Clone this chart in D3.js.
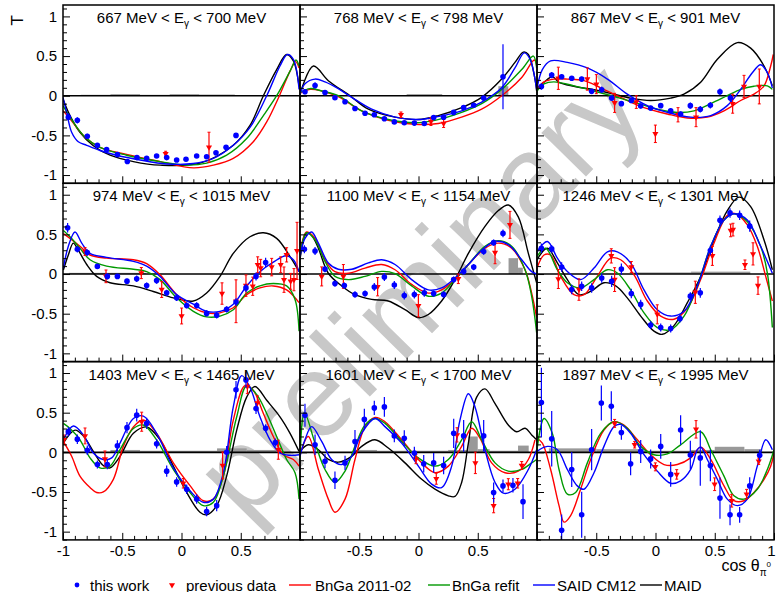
<!DOCTYPE html>
<html>
<head>
<meta charset="utf-8">
<script src="https://cdn.jsdelivr.net/npm/d3@7"></script>
<style>
  body { margin: 0; background: #fff; }
  svg { font-family: "Liberation Sans", Arial, Helvetica, sans-serif; }
</style>
</head>
<body>
<svg id="chart" width="776" height="592"></svg>
<script>
// photon energy bins, one panel each
const energyLow  = [667, 768, 867, 974, 1100, 1246, 1403, 1601, 1897];
const energyHigh = [700, 798, 901, 1015, 1154, 1301, 1465, 1700, 1995];

// [cos theta, T, error] per panel
const thisWork = [
  [[-0.955,-0.27,0.05],[-0.879,-0.31,0.04],[-0.795,-0.51,0.03],[-0.710,-0.625,0.03],[-0.632,-0.68,0.03],[-0.541,-0.74,0.02],[-0.457,-0.83,0.03],[-0.376,-0.78,0.02],[-0.294,-0.79,0.02],[-0.210,-0.76,0.02],[-0.125,-0.78,0.02],[-0.041,-0.81,0.02],[0.038,-0.80,0.02],[0.128,-0.76,0.02],[0.212,-0.77,0.02],[0.291,-0.72,0.02],[0.376,-0.65,0.02],[0.460,-0.50,0.03]],
  [[-0.958,0.05,0.03],[-0.873,0.13,0.04],[-0.789,0.04,0.02],[-0.705,-0.025,0.02],[-0.620,-0.075,0.02],[-0.536,-0.16,0.02],[-0.451,-0.22,0.02],[-0.373,-0.24,0.02],[-0.288,-0.29,0.02],[-0.204,-0.33,0.02],[-0.120,-0.34,0.02],[-0.035,-0.345,0.02],[0.049,-0.35,0.02],[0.128,-0.275,0.02],[0.212,-0.27,0.02],[0.297,-0.21,0.02],[0.381,-0.15,0.02],[0.466,-0.12,0.02],[0.550,-0.03,0.02],[0.713,0.24,0.41]],
  [[-0.963,0.117,0.04],[-0.876,0.26,0.04],[-0.792,0.24,0.03],[-0.707,0.22,0.03],[-0.623,0.21,0.03],[-0.539,0.055,0.03],[-0.454,0.075,0.04],[-0.370,-0.03,0.03],[-0.288,-0.10,0.03],[-0.204,-0.06,0.03],[-0.125,-0.13,0.03],[-0.041,-0.155,0.03],[0.044,-0.125,0.03],[0.128,-0.19,0.03],[0.212,-0.23,0.03],[0.294,-0.125,0.04],[0.378,-0.17,0.04],[0.463,-0.12,0.04],[0.544,0.05,0.04],[0.632,-0.03,0.05]],
  [[-0.961,0.583,0.06],[-0.879,0.3125,0.04],[-0.795,0.27,0.04],[-0.710,0.096,0.03],[-0.626,-0.03,0.04],[-0.541,-0.03,0.03],[-0.460,-0.09,0.03],[-0.378,-0.06,0.04],[-0.294,-0.146,0.04],[-0.210,-0.083,0.04],[-0.125,-0.2375,0.04],[-0.041,-0.30,0.04],[0.044,-0.396,0.04],[0.128,-0.396,0.04],[0.212,-0.496,0.04],[0.297,-0.52,0.04],[0.381,-0.446,0.04],[0.460,-0.354,0.05],[0.544,-0.175,0.05],[0.629,-0.03,0.05],[0.710,0.146,0.06]],
  [[-0.963,0.3125,0.05],[-0.873,0.29,0.05],[-0.789,0.0625,0.04],[-0.705,-0.12,0.04],[-0.626,-0.146,0.04],[-0.536,-0.258,0.04],[-0.451,-0.246,0.04],[-0.373,-0.1625,0.05],[-0.288,-0.0375,0.05],[-0.204,-0.1375,0.05],[-0.120,-0.27,0.05],[-0.035,-0.258,0.05],[0.049,-0.2375,0.05],[0.128,-0.246,0.04],[0.212,-0.258,0.04],[0.297,-0.07,0.04],[0.381,0.033,0.04],[0.466,0.0875,0.04],[0.550,0.283,0.04],[0.634,0.396,0.04],[0.713,0.5125,0.05]],
  [[-0.963,0.325,0.06],[-0.876,0.317,0.05],[-0.792,0.0875,0.06],[-0.707,-0.196,0.06],[-0.623,-0.154,0.06],[-0.539,-0.175,0.06],[-0.454,-0.05,0.06],[-0.370,-0.092,0.07],[-0.288,0.0625,0.07],[-0.204,-0.246,0.06],[-0.125,-0.383,0.06],[-0.041,-0.642,0.05],[0.044,-0.675,0.05],[0.128,-0.6875,0.05],[0.206,-0.5625,0.05],[0.294,-0.279,0.05],[0.378,-0.2375,0.06],[0.463,0.296,0.06],[0.544,0.679,0.06],[0.629,0.771,0.06],[0.710,0.742,0.06],[0.795,0.604,0.07]],
  [[-0.955,0.261,0.06],[-0.879,0.166,0.06],[-0.795,0.025,0.06],[-0.710,-0.154,0.05],[-0.626,-0.154,0.06],[-0.541,0.083,0.07],[-0.460,0.311,0.07],[-0.378,0.469,0.08],[-0.294,0.365,0.07],[-0.210,0.108,0.06],[-0.125,-0.237,0.07],[-0.041,-0.373,0.06],[0.044,-0.465,0.06],[0.128,-0.589,0.06],[0.212,-0.747,0.06],[0.297,-0.672,0.07],[0.381,0,0.08],[0.460,0.788,0.11],[0.544,0.913,0.1],[0.629,0.552,0.07],[0.710,0.303,0.05],[0.792,0.124,0.05]],
  [[-0.958,0.469,0.145],[-0.873,0.095,0.13],[-0.789,-0.112,0.09],[-0.705,-0.353,0.11],[-0.620,-0.133,0.09],[-0.536,0.137,0.145],[-0.457,0.415,0.135],[-0.373,0.56,0.09],[-0.288,0.573,0.125],[-0.204,0.207,0.08],[-0.120,0.178,0.1],[-0.035,-0.008,0.08],[0.044,-0.145,0.11],[0.128,-0.133,0.125],[0.212,-0.166,0.11],[0.297,0.24,0.185],[0.381,0.207,0.2],[0.550,0.207,0.2],[0.634,-0.506,0.125],[0.713,-0.423,0.08],[0.797,-0.415,0.09],[0.882,-0.622,0.22]],
  [[-0.963,0.627,0.44],[-0.876,0.17,0.35],[-0.792,-0.983,0.2],[-0.707,-0.216,0.22],[-0.623,-0.788,0.29],[-0.539,0.033,0.26],[-0.457,0.622,0.22],[-0.373,0.581,0.19],[-0.288,0.249,0.09],[-0.210,-0.145,0.145],[-0.125,0.012,0.145],[-0.041,-0.083,0.12],[0.044,0.075,0.155],[0.128,-0.278,0.155],[0.212,0.282,0.185],[0.294,-0.033,0.18],[0.378,-0.07,0.35],[0.463,-0.166,0.2],[0.544,-0.577,0.26],[0.629,-0.788,0.13],[0.710,-0.788,0.1],[0.795,-0.423,0.11],[0.879,-0.037,0.07]]
];

const previousData = [
  [[-0.134,-0.73,0.03],[0.232,-0.65,0.19]],
  [[-0.148,-0.24,0.035],[0.105,-0.325,0.05],[0.212,-0.35,0.05]],
  [[-0.820,0.22,0.14],[-0.575,0.21,0.14],[-0.499,0.146,0.12],[-0.345,-0.09,0.12],[-0.162,-0.08,0.08],[-0.001,-0.48,0.11],[0.190,-0.24,0.09],[0.342,-0.27,0.12],[0.651,-0.1,0.12],[0.747,0.117,0.14],[0.876,0.117,0.22]],
  [[-0.814,0.283,0.05],[-0.637,-0.029,0.08],[-0.339,0.0125,0.07],[-0.167,-0.196,0.1],[0.001,-0.529,0.1],[0.342,-0.246,0.135],[0.460,-0.343,0.27],[0.544,-0.146,0.135],[0.601,-0.154,0.115],[0.643,0.117,0.1],[0.668,0.075,0.11],[0.761,0.0875,0.11],[0.837,0.117,0.1],[0.865,-0.071,0.16],[0.887,0.242,0.09],[0.921,-0.092,0.1],[0.949,-0.071,0.14],[0.975,0.292,0.36]],
  [[-0.817,-0.03,0.12],[-0.634,-0.03,0.15],[-0.345,-0.16,0.115],[-0.001,-0.40,0.14],[0.336,-0.06,0.06],[0.646,0.27,0.14],[0.772,0.62,0.17]],
  [[-0.820,-0.0625,0.12],[-0.646,-0.196,0.135],[-0.373,0.229,0.09],[-0.345,-0.07,0.15],[-0.204,0.0875,0.07],[0.015,-0.508,0.12],[0.336,-0.23,0.14],[0.480,0.229,0.12],[0.634,0.55,0.08],[0.654,0.56,0.08],[0.755,0.117,0.06],[0.823,0.254,0.14],[0.865,-0.146,0.11]],
  [[-0.992,0.158,0.06],[-0.814,0.207,0.1],[-0.646,-0.083,0.1],[-0.336,0.386,0.12],[0.015,-0.39,0.06],[0.347,-0.166,0.17],[0.556,0.83,0.09],[0.640,0.622,0.09],[0.817,0.033,0.12]],
  [[-0.021,-0.083,0.06],[0.150,-0.332,0.07],[0.325,0.22,0.09],[0.480,-0.133,0.135],[0.634,-0.672,0.09],[0.758,-0.402,0.07],[0.837,-0.39,0.06],[0.871,-0.166,0.05]],
  [[-0.345,0.365,0.05],[-0.176,0.095,0.04],[-0.001,-0.183,0.05],[0.179,-0.278,0.06],[0.342,0.29,0.11],[0.499,-0.402,0.08],[0.643,-0.61,0.08],[0.769,-0.527,0.06],[0.871,-0.112,0.04]]
];

// model curves, [cos theta, T]
const bnga201102 = [
  [[-1,-0.19],[-0.941,-0.29],[-0.828,-0.5],[-0.688,-0.65],[-0.463,-0.74],[-0.181,-0.83],[0.100,-0.91],[0.269,-0.875],[0.437,-0.79],[0.606,-0.58],[0.719,-0.33],[0.826,0],[0.916,0.31],[0.963,0.43],[0.992,0.35]],
  [[-1,0.03],[-0.916,0.08],[-0.817,0.06],[-0.677,-0.01],[-0.480,-0.19],[-0.255,-0.31],[-0.030,-0.36],[0.167,-0.35],[0.364,-0.27],[0.533,-0.17],[0.702,0],[0.871,0.23],[0.978,0.45],[1.0,0.35]],
  [[-1,0.08],[-0.941,0.175],[-0.857,0.21],[-0.744,0.21],[-0.603,0.19],[-0.463,0.10],[-0.294,-0.02],[-0.097,-0.15],[0.100,-0.23],[0.269,-0.28],[0.437,-0.27],[0.578,-0.19],[0.719,-0.06],[0.831,0.02],[0.916,0.125],[0.972,0.375],[0.994,0.52]],
  [[-0.997,0.51],[-0.941,0.45],[-0.857,0.35],[-0.772,0.24],[-0.632,0.20],[-0.406,0.18],[-0.294,0.13],[-0.181,-0.01],[-0.041,-0.26],[0.100,-0.425],[0.212,-0.49],[0.325,-0.49],[0.437,-0.425],[0.550,-0.26],[0.662,-0.175],[0.775,-0.15],[0.887,-0.2],[0.992,-0.36]],
  [[-1,0.26],[-0.944,0.53],[-0.873,0.45],[-0.789,0.18],[-0.705,0.03],[-0.592,0.01],[-0.451,0.075],[-0.311,0.12],[-0.198,0.054],[-0.058,-0.13],[0.083,-0.24],[0.195,-0.2],[0.308,-0.07],[0.421,0.12],[0.561,0.325],[0.674,0.39],[0.786,0.325],[0.899,0.054],[0.955,-0.24],[0.997,-0.55]],
  [[-1,0.075],[-0.941,0.24],[-0.885,0.24],[-0.800,-0.03],[-0.688,-0.26],[-0.603,-0.26],[-0.491,-0.03],[-0.378,0.2],[-0.294,0.18],[-0.181,-0.01],[-0.069,-0.34],[0.044,-0.53],[0.156,-0.57],[0.269,-0.43],[0.381,-0.07],[0.494,0.39],[0.606,0.74],[0.677,0.76],[0.775,0.62],[0.859,0.35],[0.930,-0.03],[0.986,-0.34]],
  [[-0.997,0.137],[-0.927,-0.05],[-0.857,-0.3],[-0.772,-0.444],[-0.716,-0.506],[-0.660,-0.5],[-0.575,-0.34],[-0.491,0.075],[-0.406,0.32],[-0.322,0.407],[-0.210,0.24],[-0.069,-0.133],[0.072,-0.42],[0.184,-0.61],[0.269,-0.59],[0.353,-0.3],[0.437,0.407],[0.536,0.84],[0.606,0.78],[0.691,0.49],[0.775,0.2],[0.859,-0.03],[0.944,-0.09],[0.992,-0.174]],
  [[-1,-0.03],[-0.930,0.2],[-0.845,-0.216],[-0.761,-0.59],[-0.705,-0.755],[-0.620,-0.59],[-0.536,-0.09],[-0.451,0.324],[-0.367,0.44],[-0.283,0.386],[-0.142,0.158],[-0.001,-0.09],[0.139,-0.257],[0.252,-0.174],[0.364,0.075],[0.449,0.303],[0.519,0.178],[0.617,-0.133],[0.730,-0.257],[0.842,-0.237],[0.927,-0.09],[0.983,0.158]],
  [[-1,0.178],[-0.955,0.116],[-0.885,-0.216],[-0.814,-0.672],[-0.772,-0.88],[-0.716,-0.797],[-0.632,-0.465],[-0.547,-0.09],[-0.435,0.282],[-0.350,0.386],[-0.266,0.344],[-0.153,0.158],[-0.041,-0.03],[0.072,-0.154],[0.184,-0.154],[0.297,-0.07],[0.381,0.066],[0.466,-0.09],[0.578,-0.423],[0.662,-0.61],[0.747,-0.61],[0.831,-0.506],[0.916,-0.34],[0.972,-0.174],[1.0,-0.008]]
];

const bngaRefit = [
  [[-1,-0.125],[-0.941,-0.27],[-0.828,-0.5],[-0.688,-0.65],[-0.463,-0.75],[-0.181,-0.83],[0.044,-0.875],[0.212,-0.85],[0.381,-0.75],[0.550,-0.54],[0.691,-0.25],[0.803,0],[0.916,0.31],[0.966,0.45],[0.992,0.375]],
  [[-1,0.04],[-0.916,0.09],[-0.817,0.06],[-0.677,0],[-0.480,-0.19],[-0.255,-0.30],[-0.030,-0.34],[0.139,-0.31],[0.364,-0.21],[0.533,-0.10],[0.702,0.08],[0.871,0.33],[0.969,0.5],[0.997,0.35]],
  [[-1,0.06],[-0.941,0.15],[-0.857,0.175],[-0.688,0.125],[-0.519,0.06],[-0.350,-0.01],[-0.181,-0.08],[0.015,-0.17],[0.184,-0.21],[0.325,-0.19],[0.466,-0.10],[0.606,0],[0.719,0.08],[0.831,0.12],[0.944,0.125],[0.986,0.08]],
  [[-0.997,0.55],[-0.941,0.47],[-0.857,0.325],[-0.772,0.18],[-0.632,0.10],[-0.406,0.06],[-0.294,0.03],[-0.181,-0.07],[-0.041,-0.30],[0.100,-0.47],[0.212,-0.54],[0.325,-0.53],[0.437,-0.45],[0.550,-0.24],[0.662,-0.15],[0.775,-0.12],[0.887,-0.15],[0.958,-0.32],[0.992,-0.72]],
  [[-1,0.24],[-0.944,0.52],[-0.873,0.43],[-0.789,0.16],[-0.705,-0.03],[-0.592,-0.07],[-0.451,-0.03],[-0.311,0.033],[-0.198,0.004],[-0.058,-0.15],[0.083,-0.28],[0.195,-0.24],[0.308,-0.07],[0.421,0.12],[0.561,0.35],[0.674,0.42],[0.786,0.35],[0.899,0.054],[0.955,-0.28],[0.997,-0.74]],
  [[-1,0.22],[-0.927,0.325],[-0.828,0.054],[-0.744,-0.11],[-0.632,-0.175],[-0.519,-0.07],[-0.406,0.054],[-0.322,0.0125],[-0.210,-0.2],[-0.097,-0.49],[0.015,-0.675],[0.128,-0.70],[0.241,-0.53],[0.353,-0.15],[0.466,0.35],[0.578,0.68],[0.662,0.76],[0.775,0.66],[0.887,0.35],[0.944,0.0125],[0.986,-0.675]],
  [[-0.997,0.365],[-0.941,0.3],[-0.857,0.158],[-0.772,-0.07],[-0.688,-0.195],[-0.603,-0.174],[-0.519,0.033],[-0.406,0.3],[-0.322,0.344],[-0.210,0.158],[-0.069,-0.216],[0.072,-0.506],[0.184,-0.672],[0.269,-0.63],[0.353,-0.3],[0.466,0.448],[0.550,0.84],[0.634,0.73],[0.719,0.49],[0.803,0.2],[0.887,-0.09],[0.958,-0.257],[0.992,-0.59]],
  [[-1,-0.09],[-0.963,0.5],[-0.873,0.116],[-0.789,-0.216],[-0.705,-0.38],[-0.620,-0.237],[-0.536,0.075],[-0.451,0.344],[-0.367,0.427],[-0.283,0.365],[-0.142,0.137],[-0.001,-0.07],[0.139,-0.174],[0.252,-0.09],[0.364,0.158],[0.449,0.386],[0.533,0.158],[0.646,-0.133],[0.758,-0.237],[0.871,-0.216],[0.955,-0.133],[0.997,-0.09]],
  [[-1,0.033],[-0.941,0.427],[-0.871,0.24],[-0.814,-0.216],[-0.744,-0.527],[-0.674,-0.506],[-0.575,-0.133],[-0.463,0.24],[-0.350,0.386],[-0.238,0.303],[-0.125,0.075],[-0.013,-0.03],[0.100,-0.02],[0.212,0.095],[0.381,0.26],[0.466,0.033],[0.578,-0.3],[0.662,-0.548],[0.747,-0.59],[0.859,-0.465],[0.944,-0.216],[1.0,0.033]]
];

const saidCM12 = [
  [[-1,-0.02],[-0.969,-0.21],[-0.927,-0.46],[-0.871,-0.58],[-0.800,-0.625],[-0.688,-0.69],[-0.547,-0.75],[-0.350,-0.81],[-0.125,-0.86],[0.100,-0.855],[0.269,-0.79],[0.437,-0.625],[0.578,-0.40],[0.719,0],[0.831,0.375],[0.893,0.52],[0.944,0.46],[0.992,0.08]],
  [[-1,0.02],[-0.958,0.15],[-0.873,0.21],[-0.789,0.175],[-0.677,0.09],[-0.564,-0.02],[-0.395,-0.17],[-0.198,-0.27],[-0.001,-0.30],[0.139,-0.27],[0.364,-0.19],[0.533,-0.08],[0.702,0.10],[0.814,0.35],[0.893,0.54],[0.941,0.46],[0.997,0.08]],
  [[-1,0.09],[-0.955,0.33],[-0.885,0.44],[-0.744,0.42],[-0.575,0.35],[-0.406,0.21],[-0.238,0.02],[-0.069,-0.125],[0.100,-0.21],[0.297,-0.27],[0.466,-0.25],[0.606,-0.125],[0.719,0.08],[0.817,0.29],[0.887,0.39],[0.944,0.29],[0.986,0.10]],
  [[-0.997,0.075],[-0.955,0.35],[-0.899,0.53],[-0.842,0.39],[-0.772,0.26],[-0.632,0.21],[-0.406,0.16],[-0.294,0.10],[-0.181,-0.03],[-0.041,-0.26],[0.100,-0.38],[0.212,-0.47],[0.325,-0.47],[0.437,-0.38],[0.550,-0.15],[0.662,0.03],[0.775,0.15],[0.882,0.23],[0.944,0.18],[0.992,0.03]],
  [[-1,0.22],[-0.958,0.45],[-0.902,0.53],[-0.845,0.39],[-0.761,0.14],[-0.677,0.06],[-0.564,0.06],[-0.423,0.14],[-0.311,0.18],[-0.198,0.12],[-0.058,-0.07],[0.083,-0.20],[0.195,-0.175],[0.308,-0.05],[0.421,0.12],[0.533,0.30],[0.646,0.41],[0.758,0.37],[0.871,0.18],[0.955,0.03],[0.997,0.0]],
  [[-1,0.28],[-0.913,0.41],[-0.828,0.2],[-0.744,0.033],[-0.632,-0.07],[-0.519,0.075],[-0.406,0.28],[-0.322,0.28],[-0.210,0.14],[-0.097,-0.2],[0.015,-0.45],[0.128,-0.53],[0.241,-0.47],[0.353,-0.15],[0.466,0.35],[0.578,0.68],[0.662,0.76],[0.775,0.68],[0.887,0.35],[0.986,0.01]],
  [[-0.997,0.158],[-0.913,0.332],[-0.828,0.22],[-0.744,-0.008],[-0.660,-0.09],[-0.589,-0.07],[-0.519,0.116],[-0.406,0.427],[-0.322,0.456],[-0.210,0.24],[-0.069,-0.195],[0.072,-0.485],[0.184,-0.63],[0.269,-0.59],[0.353,-0.257],[0.437,0.573],[0.508,0.967],[0.578,0.82],[0.662,0.448],[0.747,0.158],[0.831,-0.008],[0.916,-0.037],[0.992,-0.03]],
  [[-1,-0.05],[-0.958,0.158],[-0.902,0.324],[-0.817,0.137],[-0.733,-0.09],[-0.648,-0.154],[-0.564,-0.05],[-0.480,0.24],[-0.367,0.427],[-0.283,0.324],[-0.142,0.116],[-0.001,-0.174],[0.111,-0.4],[0.195,-0.444],[0.280,-0.174],[0.350,0.407],[0.421,0.739],[0.477,0.573],[0.561,0.033],[0.646,-0.38],[0.716,-0.515],[0.814,-0.465],[0.927,-0.216],[0.997,0.033]],
  [[-1,0.012],[-0.913,0.075],[-0.828,0.033],[-0.744,-0.216],[-0.660,-0.423],[-0.603,-0.465],[-0.519,-0.257],[-0.435,0.075],[-0.350,0.324],[-0.294,0.353],[-0.210,0.24],[-0.097,-0.03],[0.015,-0.237],[0.128,-0.39],[0.212,-0.36],[0.297,-0.216],[0.353,0.033],[0.381,0.066],[0.437,-0.09],[0.522,-0.34],[0.606,-0.59],[0.691,-0.672],[0.775,-0.59],[0.859,-0.174],[0.930,0.158],[0.986,0.033]]
];

const maid = [
  [[-1,-0.04],[-0.941,-0.25],[-0.857,-0.46],[-0.744,-0.63],[-0.603,-0.75],[-0.406,-0.83],[-0.181,-0.875],[0.156,-0.85],[0.437,-0.625],[0.578,-0.375],[0.691,0],[0.803,0.33],[0.887,0.52],[0.944,0.44],[0.992,0.12]],
  [[-1,0.02],[-0.887,0.375],[-0.761,0.19],[-0.578,0],[-0.423,-0.17],[-0.198,-0.27],[-0.001,-0.30],[0.167,-0.25],[0.364,-0.15],[0.533,-0.02],[0.702,0.21],[0.814,0.42],[0.885,0.55],[0.927,0.52],[0.983,0.21],[0.997,0.06]],
  [[-1,0.10],[-0.941,0.17],[-0.871,0.24],[-0.814,0.17],[-0.688,0.12],[-0.519,0.075],[-0.378,0.03],[-0.210,-0.03],[-0.041,-0.06],[0.128,-0.03],[0.240,0.02],[0.381,0.17],[0.522,0.46],[0.691,0.67],[0.803,0.60],[0.916,0.375],[0.986,0.125]],
  [[-0.997,0.05],[-0.955,0.24],[-0.913,0.39],[-0.871,0.30],[-0.800,0.12],[-0.716,-0.03],[-0.603,-0.11],[-0.406,-0.15],[-0.238,-0.22],[-0.069,-0.30],[0.100,-0.34],[0.212,-0.24],[0.325,-0.03],[0.437,0.26],[0.578,0.47],[0.691,0.52],[0.803,0.45],[0.916,0.22],[0.992,0.03]],
  [[-1,0.18],[-0.944,0.52],[-0.902,0.49],[-0.845,0.325],[-0.761,0.01],[-0.648,-0.15],[-0.536,-0.26],[-0.395,-0.32],[-0.255,-0.34],[-0.114,-0.45],[-0.001,-0.55],[0.083,-0.51],[0.195,-0.34],[0.308,-0.07],[0.421,0.26],[0.561,0.60],[0.674,0.80],[0.758,0.87],[0.842,0.72],[0.927,0.26],[0.997,-0.11]],
  [[-1,0.18],[-0.913,0.325],[-0.828,0.14],[-0.744,-0.07],[-0.646,-0.26],[-0.547,-0.22],[-0.435,-0.11],[-0.336,-0.15],[-0.238,-0.30],[-0.125,-0.53],[-0.013,-0.72],[0.058,-0.76],[0.156,-0.65],[0.269,-0.36],[0.381,-0.03],[0.494,0.43],[0.606,0.80],[0.705,0.97],[0.803,0.85],[0.916,0.43],[0.986,0.054]],
  [[-0.997,0.116],[-0.899,0.28],[-0.828,0.207],[-0.744,0.012],[-0.660,-0.166],[-0.603,-0.195],[-0.519,-0.05],[-0.406,0.24],[-0.294,0.32],[-0.181,0.158],[-0.069,-0.174],[0.044,-0.506],[0.156,-0.755],[0.212,-0.788],[0.297,-0.672],[0.381,-0.3],[0.466,0.28],[0.550,0.697],[0.620,0.83],[0.719,0.656],[0.831,0.448],[0.916,0.24],[0.992,0.012]],
  [[-1,0.012],[-0.930,0.095],[-0.845,0.033],[-0.761,-0.09],[-0.677,-0.124],[-0.564,-0.05],[-0.480,0.075],[-0.367,0.158],[-0.255,0.054],[-0.114,-0.133],[0.027,-0.34],[0.139,-0.465],[0.252,-0.548],[0.308,-0.556],[0.364,-0.38],[0.421,0.116],[0.491,0.697],[0.561,0.80],[0.646,0.614],[0.758,0.344],[0.828,0.26],[0.899,0.303],[0.955,0.22],[0.997,0.158]],
  []
];

// systematic error histogram: [cos low, cos high, height]
const systErr = [
  [[-0.85,-0.6,0.012],[-0.6,-0.35,0.02],[-0.35,-0.1,0.012],[-0.1,0.15,0.02],[0.15,0.45,0.015]],
  [[-0.1,0.2,0.02],[0.674,0.758,0.12]],
  [],
  [[-0.95,-0.3,0.015]],
  [[0.76,0.84,0.2],[0.84,0.88,0.08]],
  [[-0.2,0.3,0.02],[0.3,0.8,0.03]],
  [[-0.6,-0.35,0.03],[-0.35,0.3,0.02],[0.3,0.55,0.05],[0.55,0.8,0.03]],
  [[-0.55,-0.35,0.03],[-0.35,0.25,0.02],[0.25,0.42,0.03],[0.42,0.5,0.2],[0.5,0.6,0.04],[0.6,0.84,0.02],[0.84,0.93,0.085]],
  [[-0.9,-0.5,0.05],[-0.5,-0.1,0.04],[-0.1,0.3,0.02],[0.3,0.5,0.03],[0.5,0.75,0.07],[0.75,0.9,0.04]]
];

const yMajorTicks = [-1, -0.5, 0, 0.5, 1];
const xMajorTicks = [-1, -0.5, 0, 0.5, 1];
const xLabelsByColumn = [[-1, -0.5, 0, 0.5], [-0.5, 0, 0.5], [-0.5, 0, 0.5, 1]];
const legendLabels = ['this work', 'previous data', 'BnGa 2011-02', 'BnGa refit', 'SAID CM12', 'MAID'];

const svg = d3.select('#chart');
const plotLeft = 63, plotTop = 5, panelW = 237, panelH = 178.3;
const yDomain = [-1.104, 1.144];
const FONT = '"Liberation Sans", Arial, Helvetica, sans-serif';
const RED = '#ff0000', GREEN = '#009900', BLUE = '#0000ff';

const curveSets = [
  {data: maid, color: '#000000'},
  {data: bnga201102, color: RED},
  {data: bngaRefit, color: GREEN},
  {data: saidCM12, color: BLUE}
];

// preliminary watermark, under the data
svg.append('text')
  .attr('transform', 'translate(447,318) rotate(-45.5)')
  .attr('text-anchor', 'middle')
  .attr('font-size', 118)
  .attr('fill', '#c8c8c8')
  .text('preliminary');

const minorY = d3.range(-11, 12).map(k => k / 10)
  .filter(v => v >= yDomain[0] && v <= yDomain[1] && Math.abs(v * 2 - Math.round(v * 2)) > 1e-6);
const minorX = d3.range(-10, 11).map(k => k / 10)
  .filter(v => Math.abs(v * 2 - Math.round(v * 2)) > 1e-6);

function cleanAxis(sel) {
  sel.attr('font-family', FONT).attr('font-size', 15);
  sel.select('.domain').remove();
  sel.selectAll('line').attr('stroke', '#000');
  sel.selectAll('text').attr('fill', '#000');
}

const triangle = d3.symbol(d3.symbolTriangle, 16);

energyLow.forEach((lo, i) => {
  const col = i % 3, row = Math.floor(i / 3);
  const x0 = plotLeft + col * panelW, y0 = plotTop + row * panelH;
  const x = d3.scaleLinear().domain([-1, 1]).range([x0, x0 + panelW]);
  const y = d3.scaleLinear().domain(yDomain).range([y0 + panelH, y0]);

  svg.append('clipPath').attr('id', 'clip' + i)
    .append('rect').attr('x', x0).attr('y', y0).attr('width', panelW).attr('height', panelH);
  const g = svg.append('g').attr('clip-path', `url(#clip${i})`);

  // systematic errors
  g.selectAll('rect.sys').data(systErr[i]).join('rect')
    .attr('class', 'sys')
    .attr('x', d => x(d[0])).attr('width', d => x(d[1]) - x(d[0]))
    .attr('y', d => y(d[2])).attr('height', d => y(0) - y(d[2]))
    .attr('fill', '#999');

  g.append('line')
    .attr('x1', x(-1)).attr('x2', x(1)).attr('y1', y(0)).attr('y2', y(0))
    .attr('stroke', '#000').attr('stroke-width', 1.6);

  const line = d3.line().x(d => x(d[0])).y(d => y(d[1])).curve(d3.curveCatmullRom.alpha(0.5));
  curveSets.forEach(c => {
    if (!c.data[i].length) return;
    g.append('path').attr('d', line(c.data[i]))
      .attr('fill', 'none').attr('stroke', c.color).attr('stroke-width', 1.4);
  });

  // previous data (red triangles)
  const prev = g.append('g');
  prev.selectAll('line.eb').data(previousData[i]).join('line')
    .attr('x1', d => x(d[0])).attr('x2', d => x(d[0]))
    .attr('y1', d => y(d[1] - d[2])).attr('y2', d => y(d[1] + d[2]))
    .attr('stroke', RED).attr('stroke-width', 1.2);
  [-1, 1].forEach(s => {
    prev.selectAll(null).data(previousData[i]).join('line')
      .attr('x1', d => x(d[0]) - 1.5).attr('x2', d => x(d[0]) + 1.5)
      .attr('y1', d => y(d[1] + s * d[2])).attr('y2', d => y(d[1] + s * d[2]))
      .attr('stroke', RED).attr('stroke-width', 1);
  });
  prev.selectAll('path').data(previousData[i]).join('path')
    .attr('d', triangle)
    .attr('transform', d => `translate(${x(d[0])},${y(d[1])}) rotate(180)`)
    .attr('fill', RED);

  // this work (blue dots)
  const tw = g.append('g');
  tw.selectAll('line').data(thisWork[i]).join('line')
    .attr('x1', d => x(d[0])).attr('x2', d => x(d[0]))
    .attr('y1', d => y(d[1] - d[2])).attr('y2', d => y(d[1] + d[2]))
    .attr('stroke', BLUE).attr('stroke-width', 1.2);
  tw.selectAll('circle').data(thisWork[i]).join('circle')
    .attr('cx', d => x(d[0])).attr('cy', d => y(d[1])).attr('r', 2.8)
    .attr('fill', BLUE);

  // axes, ticks pointing inward
  svg.append('g').attr('transform', `translate(${x0},0)`)
    .call(d3.axisLeft(y).tickValues(yMajorTicks).tickSizeInner(-7).tickSizeOuter(0).tickPadding(6)
      .tickFormat(d => col === 0 ? String(d) : ''))
    .call(cleanAxis);
  svg.append('g').attr('transform', `translate(${x0},0)`)
    .call(d3.axisLeft(y).tickValues(minorY).tickSizeInner(-4).tickSizeOuter(0).tickFormat(''))
    .call(cleanAxis);
  const xAxisG = svg.append('g').attr('transform', `translate(0,${y0 + panelH})`)
    .call(d3.axisBottom(x).tickValues(xMajorTicks).tickSizeInner(-7).tickSizeOuter(0).tickPadding(5)
      .tickFormat(d => row === 2 && xLabelsByColumn[col].includes(d) ? String(d) : ''))
    .call(cleanAxis);
  // the last label sits on the picture edge: nudge it in
  xAxisG.selectAll('text').filter(d => d === 1).attr('dx', -3);
  svg.append('g').attr('transform', `translate(0,${y0 + panelH})`)
    .call(d3.axisBottom(x).tickValues(minorX).tickSizeInner(-4).tickSizeOuter(0).tickFormat(''))
    .call(cleanAxis);

  // panel title
  const title = svg.append('text')
    .attr('x', x0 + panelW / 2).attr('y', y0 + 18)
    .attr('text-anchor', 'middle').attr('font-size', 15).attr('fill', '#000');
  title.append('tspan').text(`${lo} MeV < E`);
  title.append('tspan').attr('font-size', 10).attr('dy', 4).text('γ');
  title.append('tspan').attr('dy', -4).text(` < ${energyHigh[i]} MeV`);

  svg.append('rect')
    .attr('x', x0).attr('y', y0).attr('width', panelW).attr('height', panelH)
    .attr('fill', 'none').attr('stroke', '#000').attr('stroke-width', 1.5);
});

// axis titles
svg.append('text')
  .attr('transform', 'translate(23,15) rotate(-90)')
  .attr('text-anchor', 'end').attr('font-size', 17).text('T');

const xTitle = svg.append('text')
  .attr('x', 771).attr('y', 571).attr('text-anchor', 'end').attr('font-size', 16);
xTitle.append('tspan').text('cos θ');
xTitle.append('tspan').attr('font-size', 10).attr('dy', 5).text('π');
xTitle.append('tspan').attr('font-size', 8).attr('dy', -9).text('0');

// legend
const legendY = 585;
const legend = svg.append('g').attr('font-size', 15);
const legendItems = [
  {type: 'dot', color: BLUE, mx: 77, tx: 90},
  {type: 'tri', color: RED, mx: 172, tx: 186},
  {type: 'line', color: RED, mx: 289, tx: 315},
  {type: 'line', color: GREEN, mx: 428, tx: 452},
  {type: 'line', color: BLUE, mx: 533, tx: 557},
  {type: 'line', color: '#000000', mx: 640, tx: 664}
];
legendItems.forEach((it, k) => {
  if (it.type === 'dot') {
    legend.append('circle').attr('cx', it.mx).attr('cy', legendY).attr('r', 2.4).attr('fill', it.color);
  } else if (it.type === 'tri') {
    legend.append('path').attr('d', triangle)
      .attr('transform', `translate(${it.mx},${legendY}) rotate(180)`).attr('fill', it.color);
  } else {
    legend.append('line').attr('x1', it.mx).attr('x2', it.mx + 22)
      .attr('y1', legendY).attr('y2', legendY)
      .attr('stroke', it.color).attr('stroke-width', 1.4);
  }
  legend.append('text').attr('x', it.tx).attr('y', legendY + 5.5).text(legendLabels[k]);
});
</script>
</body>
</html>
